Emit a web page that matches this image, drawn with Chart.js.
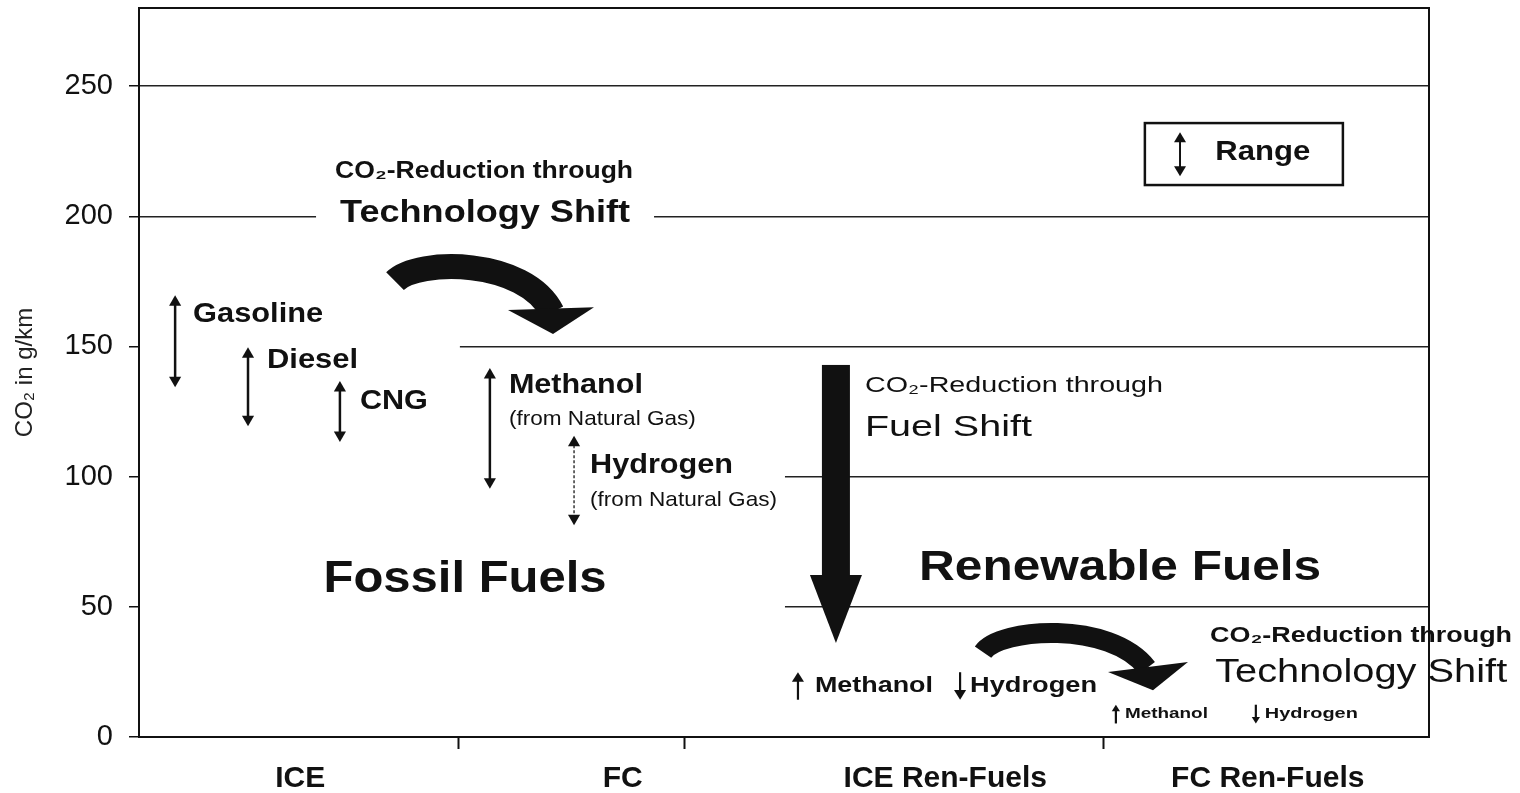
<!DOCTYPE html>
<html>
<head>
<meta charset="utf-8">
<script src="https://cdn.jsdelivr.net/npm/chart.js@4.4.1/dist/chart.umd.min.js"></script>
<style>
  html, body { margin: 0; padding: 0; background: #fff; }
</style>
</head>
<body>
<canvas id="chart" width="1520" height="793"></canvas>
<script>
// --- data ---
const categories = ['ICE', 'FC', 'ICE Ren-Fuels', 'FC Ren-Fuels'];
const yTicks = [0, 50, 100, 150, 200, 250];

// CO2 ranges (g/km) of the fossil fuel paths
const fossilNames = ['Gasoline', 'Diesel', 'CNG', 'Methanol', 'Hydrogen'];
const fossilCategory = [0, 0, 0, 1, 1];
const fossilLow = [137, 122, 116, 98, 84];
const fossilHigh = [167, 147, 134, 139, 113];
const fossilNote = ['', '', '', '(from Natural Gas)', '(from Natural Gas)'];

// --- layout / style ---
const INK = '#111';
const FONT = '"Liberation Sans", Arial, sans-serif';
const arrowOffset = [-0.388, -0.162, 0.123, -0.412, -0.151]; // inside the category
const labelDx = [18, 19, 20, 19, 16];
const labelDy = [12, 6, 13, 10, 23];
const labelW = [130, 91, 68, 134, 143];
const xTickMarks = [0.49, 1.19, 2.49];
// white step area behind the fossil fuel block (hides the grid)
const coverStep = [{x: -0.5, y: 182}, {x: 0.495, y: 140}, {x: 1.503, y: 0}, {x: 3.5, y: 0}];

const notes = [
  {t: 'CO₂-Reduction through', x: 0.570, y: 217.0, size: 23, bold: true, align: 'center', w: 298},
  {t: 'Technology Shift', x: 0.573, y: 201.2, size: 32, bold: true, align: 'center', w: 290, bg: 24},
  {t: 'Fossil Fuels', x: 0.511, y: 60.3, size: 44, bold: true, align: 'center', w: 283},
  {t: 'CO₂-Reduction through', x: 1.751, y: 134.8, size: 22, bold: false, align: 'left', w: 298},
  {t: 'Fuel Shift', x: 1.751, y: 118.7, size: 30, bold: false, align: 'left', w: 167},
  {t: 'Renewable Fuels', x: 2.542, y: 64.9, size: 42, bold: true, align: 'center', w: 402},
  {t: 'Methanol', x: 1.596, y: 19.6, size: 22, bold: true, align: 'left', w: 118, arrow: 'up', gap: 17},
  {t: 'Hydrogen', x: 2.077, y: 19.6, size: 22, bold: true, align: 'left', w: 127, arrow: 'down', gap: 10},
  {t: 'CO₂-Reduction through', x: 2.821, y: 38.8, size: 22, bold: true, align: 'left', w: 302},
  {t: 'Technology Shift', x: 2.837, y: 24.6, size: 34, bold: false, align: 'left', w: 292},
  {t: 'Methanol', x: 2.557, y: 8.8, size: 15, bold: true, align: 'left', w: 83, arrow: 'up', gap: 9},
  {t: 'Hydrogen', x: 2.991, y: 8.8, size: 15, bold: true, align: 'left', w: 93, arrow: 'down', gap: 9},
  {t: 'Range', x: 2.837, y: 224.7, size: 28, bold: true, align: 'left', w: 95}
];

// curved "technology shift" arrows (cubic), and the straight "fuel shift" arrow
const curvedArrows = [
  {from: [0.2938, 175.1], c1: [0.3651, 183.9], c2: [0.6969, 183.9], to: [0.7806, 163.2],
   head: [[0.6442, 164.0], [0.7837, 154.8], [0.9109, 165.1]], width: 25},
  {from: [2.1171, 32.6], c1: [2.1698, 41.9], c2: [2.5109, 44.9], to: [2.6256, 26.5],
   head: [[2.5047, 25.0], [2.6442, 18.0], [2.7527, 28.8]], width: 20}
];
const fuelShift = {x: 1.661, top: 142.9, base: 62.2, tip: 36.1, shaft: 14, head: 26};
const legendBox = {x1: 2.619, y1: 235.8, x2: 3.233, y2: 212.0, ax: 2.728, alo: 215.4, ahi: 232.3};

function tri(ctx, pts) {
  ctx.beginPath();
  ctx.moveTo(pts[0][0], pts[0][1]);
  ctx.lineTo(pts[1][0], pts[1][1]);
  ctx.lineTo(pts[2][0], pts[2][1]);
  ctx.closePath();
  ctx.fill();
}

// small one-way arrow in front of a label
function glyphArrow(ctx, x, y, h, dir) {
  const head = Math.max(4, h * 0.35), half = Math.max(3, h * 0.22);
  ctx.save();
  ctx.strokeStyle = INK;
  ctx.fillStyle = INK;
  ctx.lineWidth = h > 15 ? 2.2 : 1.6;
  const top = y - h / 2, bot = y + h / 2;
  ctx.beginPath();
  if (dir === 'up') {
    ctx.moveTo(x, bot); ctx.lineTo(x, top + head - 1); ctx.stroke();
    tri(ctx, [[x - half, top + head], [x, top], [x + half, top + head]]);
  } else {
    ctx.moveTo(x, top); ctx.lineTo(x, bot - head + 1); ctx.stroke();
    tri(ctx, [[x - half, bot - head], [x, bot], [x + half, bot - head]]);
  }
  ctx.restore();
}

function drawText(ctx, n, X, Y) {
  ctx.save();
  ctx.font = (n.bold ? 'bold ' : '') + n.size + 'px ' + FONT;
  ctx.textBaseline = 'middle';
  ctx.textAlign = 'left';
  const raw = ctx.measureText(n.t).width;
  const sx = n.w ? n.w / raw : 1;
  const w = raw * sx;
  const left = n.align === 'center' ? X - w / 2 : X;
  if (n.bg) {
    ctx.fillStyle = '#fff';
    ctx.fillRect(left - n.bg, Y - n.size * 0.6, w + 2 * n.bg, n.size * 1.2);
  }
  if (n.arrow) glyphArrow(ctx, left - n.gap, Y, n.size * 1.25, n.arrow);
  ctx.translate(left, Y);
  ctx.scale(sx, 1);
  ctx.fillStyle = INK;
  ctx.fillText(n.t, 0, 0);
  ctx.restore();
}

const overlay = {
  id: 'overlay',
  afterDatasetsDraw(chart) {
    const {ctx, chartArea: a} = chart;
    const xs = chart.scales.x, ys = chart.scales.y;
    const P = (p) => [xs.getPixelForValue(p[0]), ys.getPixelForValue(p[1])];
    ctx.save();
    ctx.strokeStyle = INK;
    ctx.fillStyle = INK;

    // frame
    ctx.lineWidth = 2;
    ctx.strokeRect(a.left, a.top, a.right - a.left, a.bottom - a.top);

    // texts
    notes.forEach(n => {
      const [X, Y] = P([n.x, n.y]);
      drawText(ctx, n, X, Y);
    });

    // labels next to the range arrows
    fossilNames.forEach((name, i) => {
      const top = chart.getDatasetMeta(i).data[1];
      const lx = top.x + labelDx[i], ly = top.y + labelDy[i];
      drawText(ctx, {t: name, size: i < 3 ? 28 : 27, bold: true, w: labelW[i]}, lx, ly);
      if (fossilNote[i]) drawText(ctx, {t: fossilNote[i], size: 21, bold: false, w: 187}, lx, ly + 34);
    });

    // curved arrows
    curvedArrows.forEach(s => {
      const p0 = P(s.from), c1 = P(s.c1), c2 = P(s.c2), p1 = P(s.to);
      ctx.lineWidth = s.width;
      ctx.lineCap = 'butt';
      ctx.beginPath();
      ctx.moveTo(p0[0], p0[1]);
      ctx.bezierCurveTo(c1[0], c1[1], c2[0], c2[1], p1[0], p1[1]);
      ctx.stroke();
      tri(ctx, s.head.map(P));
    });

    // fuel shift arrow
    const fx = xs.getPixelForValue(fuelShift.x);
    const fTop = ys.getPixelForValue(fuelShift.top);
    const fBase = ys.getPixelForValue(fuelShift.base);
    const fTip = ys.getPixelForValue(fuelShift.tip);
    ctx.fillRect(fx - fuelShift.shaft, fTop, fuelShift.shaft * 2, fBase - fTop + 1);
    tri(ctx, [[fx - fuelShift.head, fBase], [fx, fTip], [fx + fuelShift.head, fBase]]);

    // legend box
    const [bx1, by1] = P([legendBox.x1, legendBox.y1]);
    const [bx2, by2] = P([legendBox.x2, legendBox.y2]);
    ctx.lineWidth = 2.5;
    ctx.strokeRect(bx1, by1, bx2 - bx1, by2 - by1);
    const ax = xs.getPixelForValue(legendBox.ax);
    const aHi = ys.getPixelForValue(legendBox.ahi), aLo = ys.getPixelForValue(legendBox.alo);
    ctx.lineWidth = 2;
    ctx.beginPath();
    ctx.moveTo(ax, aHi + 4);
    ctx.lineTo(ax, aLo - 4);
    ctx.stroke();
    tri(ctx, [[ax - 6, aHi + 10], [ax, aHi], [ax + 6, aHi + 10]]);
    tri(ctx, [[ax - 6, aLo - 10], [ax, aLo], [ax + 6, aLo - 10]]);

    ctx.restore();
  }
};

const rangeSets = fossilNames.map((name, i) => {
  const xv = fossilCategory[i] + arrowOffset[i];
  const thin = name === 'Hydrogen';
  return {
    type: 'line',
    label: name,
    data: [{x: xv, y: fossilLow[i]}, {x: xv, y: fossilHigh[i]}],
    borderColor: thin ? '#444' : INK,
    borderWidth: thin ? 1.6 : 2.5,
    borderDash: thin ? [3, 2] : [],
    pointStyle: 'triangle',
    pointRadius: 7,
    pointRotation: [180, 0],
    pointBackgroundColor: INK,
    pointBorderWidth: 0,
    order: 1
  };
});

new Chart(document.getElementById('chart'), {
  type: 'line',
  data: {
    datasets: [
      ...rangeSets,
      {
        type: 'line',
        label: 'Fossil Fuels',
        data: coverStep,
        stepped: 'before',
        fill: 'origin',
        backgroundColor: '#fff',
        borderWidth: 0,
        pointRadius: 0,
        order: 10
      }
    ]
  },
  options: {
    responsive: false,
    animation: false,
    devicePixelRatio: 1,
    events: [],
    layout: {padding: {top: 8, right: 91, left: 0, bottom: 0}},
    plugins: {legend: {display: false}, tooltip: {enabled: false}},
    scales: {
      x: {
        type: 'linear',
        min: -0.5,
        max: 3.5,
        afterBuildTicks: s => {
          s.ticks = categories.map((c, i) => ({value: i}))
            .concat(xTickMarks.map(v => ({value: v})))
            .sort((p, q) => p.value - q.value);
        },
        afterFit: s => { s.height = 56; s.paddingLeft = 0; s.paddingRight = 0; },
        ticks: {
          autoSkip: false,
          maxRotation: 0,
          padding: 12,
          color: INK,
          font: {family: FONT, size: 30, weight: 'bold'},
          callback: v => Number.isInteger(v) ? categories[v] : ''
        },
        grid: {
          drawOnChartArea: false,
          tickLength: 12,
          tickWidth: 2,
          tickColor: c => Number.isInteger(c.tick.value) ? 'rgba(0,0,0,0)' : INK
        },
        border: {color: INK, width: 2}
      },
      y: {
        min: 0,
        max: 280,
        afterBuildTicks: s => { s.ticks = yTicks.map(v => ({value: v})); },
        afterFit: s => { s.width = 139; s.paddingTop = 0; s.paddingBottom = 0; },
        ticks: {color: INK, padding: 16, font: {family: FONT, size: 29}},
        grid: {
          color: c => c.tick.value === 0 ? 'rgba(0,0,0,0)' : '#222',
          lineWidth: 1.5,
          tickLength: 10,
          tickColor: INK,
          tickWidth: 1.5
        },
        border: {color: INK, width: 2},
        title: {
          display: true,
          text: 'CO₂ in g/km',
          color: '#222',
          font: {family: FONT, size: 24},
          padding: {top: 11, bottom: 0}
        }
      }
    }
  },
  plugins: [overlay]
});
</script>
</body>
</html>
